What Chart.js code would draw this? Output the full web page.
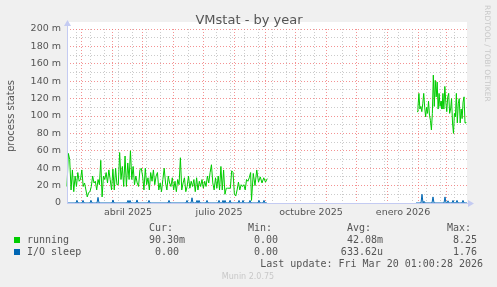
<!DOCTYPE html>
<html>
<head>
<meta charset="utf-8">
<script src="https://cdn.jsdelivr.net/npm/chart.js@4.4.1/dist/chart.umd.min.js"></script>
<style>
  html, body { margin: 0; padding: 0; background: #f0f0f0; }
  canvas { display: block; }
</style>
</head>
<body>
<canvas id="vmstatChart" width="497" height="287"></canvas>
<script>
// x is in days from the left edge of the graph (mid Feb 2025), y in milli-processes
const runningA = [
  19, 57, 50, 15, 38, 13, 31, 19, 35, 25,
  27, 38, 19, 23, 15, 7, 12, 13, 19, 31,
  23, 25, 15, 27, 21, 49, 7, 31, 27, 35,
  23, 38, 27, 15, 39, 15, 40, 21, 21, 58,
  27, 42, 19, 54, 19, 46, 27, 60, 27, 42,
  21, 31, 23, 19, 38, 40, 31, 15, 40, 21,
  29, 15, 35, 25, 38, 21, 31, 35, 15, 23,
  13, 27, 40, 23, 15, 31, 23, 19, 29, 15,
  25, 13, 27, 21, 52, 15, 23, 29, 13, 19,
  31, 17, 25, 19, 27, 13, 29, 15, 25, 19,
  27, 17, 25, 19, 31, 23, 35, 44, 23, 15,
  29, 17, 31, 15, 42, 15, 38, 10, 17, 17,
  17, 17, 37, 35, 10, 8, 15, 24, 15, 21,
  19, 21, 15, 27, 25, 29, 35
];
const runningB = [3, 34, 20, 38, 24, 30, 23, 29, 24, 28];
const runningC = [
  105, 110, 126, 108, 111, 105, 114, 126, 110, 99,
  110, 103, 117, 101, 95, 84, 103, 147, 111, 141,
  122, 139, 108, 126, 111, 117, 108, 126, 108, 134,
  116, 105, 122, 126, 103, 108, 120, 92, 80, 103,
  99, 126, 92, 114, 120, 92, 108, 97, 116, 122,
  92, 93
];

// I/O sleep: zero everywhere except these spikes
const ioSpikeDays = [10, 16, 24, 31, 46, 61, 63, 70, 82, 102, 120, 125, 130, 132, 140, 152, 156, 158, 163, 172, 176, 183, 192, 197,
  355, 357, 366, 378, 381, 386, 390, 396];
const ioSpikeValues = [3, 3, 3, 6.5, 3.5, 3, 3, 3.5, 3, 3, 3, 6, 3, 3, 3, 3, 3, 3, 3, 3, 3, 3, 3, 3,
  10, 2, 7, 7, 2.5, 3, 3, 3];

const monthStartDays = [14.3, 45.3, 75.3, 106.3, 136.3, 167.3, 198.3, 228.3, 259.3, 289.3, 320.3, 351.3, 379.3];
const monthLabels = ['abril 2025', 'julio 2025', 'octubre 2025', 'enero 2026'];
const monthLabelDays = [61, 152, 244, 336];

const seriesNames = ['running', 'I/O sleep'];
const seriesColors = ['#00cc00', '#0066b3'];
const curValues = ['90.30m', '0.00'];
const minValues = ['0.00', '0.00'];
const avgValues = ['42.08m', '633.62u'];
const maxValues = ['8.25', '1.76'];

function segment(start, step, values) {
    return values.map((v, i) => ({ x: start + i * step, y: v }));
}

const runningPoints = [
    ...segment(0, 1.35, runningA),
    ...segment(184.5, 1.75, runningB),
    { x: 275, y: null },
    ...segment(350, 0.96, runningC)
];

const ioPoints = [];
for (let d = 0; d <= 200; d++) {
    const k = ioSpikeDays.indexOf(d);
    ioPoints.push({ x: d, y: k >= 0 ? ioSpikeValues[k] : 0 });
}
ioPoints.push({ x: 275, y: null });
for (let d = 349; d <= 400; d++) {
    const k = ioSpikeDays.indexOf(d);
    ioPoints.push({ x: d, y: k >= 0 ? ioSpikeValues[k] : 0 });
}

// minor (grey) vertical grid every two weeks, skipped next to month lines
const minorDays = [];
for (let d = 9; d < 400; d += 14) {
    if (!monthStartDays.some(m => Math.abs(m - d) < 2)) minorDays.push(d);
}
const xTickValues = [...monthStartDays, ...minorDays, ...monthLabelDays].sort((a, b) => a - b);

const MAJOR = 'rgba(240, 110, 110, 0.75)';
const MINOR = 'rgba(190, 190, 190, 0.8)';
const AXIS = '#c4cbf2';
const TEXT = '#555555';

const munin = {
    id: 'munin',
    beforeDraw(chart) {
        const c = chart.ctx, a = chart.chartArea;
        c.save();
        c.fillStyle = '#f0f0f0';
        c.fillRect(0, 0, chart.width, chart.height);
        c.fillStyle = '#ffffff';
        c.fillRect(a.left, a.top - 7, a.right - a.left, a.bottom - a.top + 7);
        c.restore();
    },
    afterDraw(chart) {
        const c = chart.ctx, a = chart.chartArea;
        c.save();
        // axes with arrow heads
        c.strokeStyle = AXIS;
        c.fillStyle = AXIS;
        c.lineWidth = 1;
        c.beginPath();
        c.moveTo(a.left + 0.5, a.bottom);
        c.lineTo(a.left + 0.5, a.top - 5);
        c.moveTo(a.left, a.bottom + 0.5);
        c.lineTo(a.right + 3, a.bottom + 0.5);
        c.stroke();
        c.beginPath();
        c.moveTo(a.left + 0.5, a.top - 9);
        c.lineTo(a.left - 3, a.top - 3);
        c.lineTo(a.left + 4, a.top - 3);
        c.fill();
        c.beginPath();
        c.moveTo(a.right + 7, a.bottom + 0.5);
        c.lineTo(a.right + 1, a.bottom - 3);
        c.lineTo(a.right + 1, a.bottom + 4);
        c.fill();

        // title
        c.fillStyle = TEXT;
        c.font = '13px "DejaVu Sans"';
        c.textAlign = 'center';
        c.textBaseline = 'alphabetic';
        c.fillText('VMstat - by year', 249, 24);

        // vertical axis title
        c.save();
        c.translate(11, 116);
        c.rotate(-Math.PI / 2);
        c.font = '10px "DejaVu Sans"';
        c.textBaseline = 'middle';
        c.fillText('process states', 0, 0);
        c.restore();

        // watermark
        c.save();
        c.translate(487, 5);
        c.rotate(Math.PI / 2);
        c.font = '7.5px "DejaVu Sans"';
        c.fillStyle = '#c8c8c8';
        c.textAlign = 'left';
        c.textBaseline = 'middle';
        c.fillText('RRDTOOL / TOBI OETIKER', 0, 0);
        c.restore();

        // legend table
        c.font = '10px "DejaVu Sans Mono"';
        c.fillStyle = TEXT;
        const colRight = [185, 284, 383, 483];
        ['Cur:', 'Min:', 'Avg:', 'Max:'].forEach((h, i) => {
            c.textAlign = 'left';
            c.fillText(h, colRight[i] - 36, 231);
        });
        const withUnit = s => /[0-9]$/.test(s) ? s + ' ' : s;
        seriesNames.forEach((name, r) => {
            const y = 243 + r * 12;
            c.fillStyle = seriesColors[r];
            c.fillRect(14, y - 6, 6, 6);
            c.fillStyle = TEXT;
            c.textAlign = 'left';
            c.fillText(name, 27, y);
            c.textAlign = 'right';
            [curValues[r], minValues[r], avgValues[r], maxValues[r]].forEach((v, i) => {
                c.fillText(withUnit(v), colRight[i], y);
            });
        });
        c.textAlign = 'right';
        c.fillText('Last update: Fri Mar 20 01:00:28 2026', 483, 267);

        c.font = '8px "DejaVu Sans"';
        c.fillStyle = '#c8c8c8';
        c.textAlign = 'center';
        c.fillText('Munin 2.0.75', 248, 279);
        c.restore();
    }
};

const ctx = document.getElementById('vmstatChart').getContext('2d');
new Chart(ctx, {
    type: 'line',
    data: {
        datasets: [{
            label: seriesNames[0],
            data: runningPoints,
            borderColor: seriesColors[0],
            borderWidth: 1,
            pointRadius: 0,
            tension: 0,
            spanGaps: false,
            clip: false,
            order: 1
        }, {
            label: seriesNames[1],
            data: ioPoints,
            borderColor: seriesColors[1],
            borderWidth: 1,
            pointRadius: 0,
            tension: 0,
            spanGaps: false,
            clip: false,
            order: 0
        }]
    },
    options: {
        responsive: false,
        animation: false,
        devicePixelRatio: 1,
        layout: { padding: { top: 29, right: 30, left: 0, bottom: 0 } },
        plugins: {
            legend: { display: false },
            tooltip: { enabled: false },
            title: { display: false }
        },
        scales: {
            x: {
                type: 'linear',
                min: 0,
                max: 400,
                afterBuildTicks: scale => {
                    scale.ticks = xTickValues.map(v => ({ value: v }));
                },
                afterFit: scale => { scale.height = 84; },
                grid: {
                    drawTicks: false,
                    color: c => {
                        const v = c.tick && c.tick.value;
                        if (monthStartDays.includes(v)) return MAJOR;
                        if (minorDays.includes(v)) return MINOR;
                        return 'rgba(0,0,0,0)';
                    }
                },
                border: { display: false, dash: [1, 2] },
                ticks: {
                    autoSkip: false,
                    maxRotation: 0,
                    minRotation: 0,
                    padding: 4,
                    color: TEXT,
                    font: { family: 'DejaVu Sans', size: 9.5 },
                    callback: v => {
                        const k = monthLabelDays.indexOf(v);
                        return k >= 0 ? monthLabels[k] : '';
                    }
                }
            },
            y: {
                type: 'linear',
                min: 0,
                max: 200,
                afterFit: scale => { scale.width = 67; },
                grid: {
                    drawTicks: false,
                    color: c => {
                        const v = Math.round(c.tick ? c.tick.value : 0);
                        return v % 20 === 0 ? MAJOR : MINOR;
                    }
                },
                border: { display: false, dash: [1, 2] },
                ticks: {
                    stepSize: 10,
                    autoSkip: false,
                    padding: 6,
                    color: TEXT,
                    font: { family: 'DejaVu Sans', size: 9.5 },
                    callback: v => {
                        const r = Math.round(v);
                        if (r % 20 !== 0) return '';
                        return r === 0 ? '0' : r + ' m';
                    }
                }
            }
        }
    },
    plugins: [munin]
});
</script>
</body>
</html>
